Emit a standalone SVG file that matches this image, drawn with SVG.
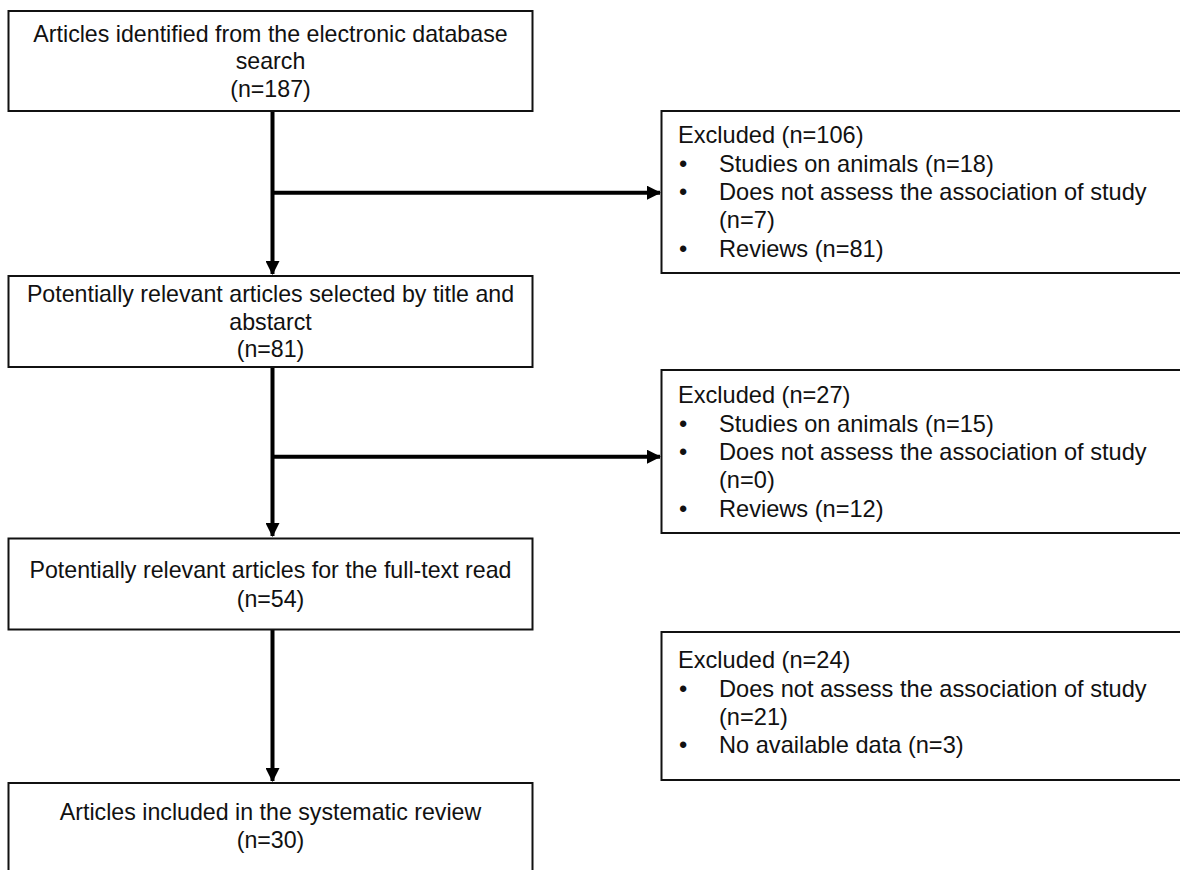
<svg xmlns="http://www.w3.org/2000/svg" width="1180" height="870" viewBox="0 0 1180 870">
<style>
.box{fill:#fff;stroke:#111;stroke-width:2}
.t{font-family:"Liberation Sans",Arial,sans-serif;font-size:23.2px;fill:#111}
.e{font-family:"Liberation Sans",Arial,sans-serif;font-size:23.6px;fill:#111}
.c{text-anchor:middle}
.ln{fill:none;stroke:#000;stroke-width:4}
</style>
<defs>
<marker id="ah" markerUnits="userSpaceOnUse" markerWidth="14" markerHeight="14" viewBox="0 0 14 14" refX="13" refY="7" orient="auto">
<path d="M0,0 L14,7 L0,14 Z" fill="#000"/>
</marker>
</defs>
<rect width="1180" height="870" fill="#fff"/>
<g id="connectors">
<line class="ln" x1="272.5" y1="111" x2="272.5" y2="274" marker-end="url(#ah)"/>
<line class="ln" x1="272.5" y1="192.7" x2="660" y2="192.7" marker-end="url(#ah)"/>
<line class="ln" x1="272.5" y1="367" x2="272.5" y2="536" marker-end="url(#ah)"/>
<line class="ln" x1="272.5" y1="456.7" x2="660" y2="456.7" marker-end="url(#ah)"/>
<line class="ln" x1="272.5" y1="630" x2="272.5" y2="781" marker-end="url(#ah)"/>
</g>
<g id="node1">
<rect class="box" x="8.5" y="11" width="524" height="100"/>
<text class="t c" x="270.5" y="41.5">Articles identified from the electronic database</text>
<text class="t c" x="270.5" y="69">search</text>
<text class="t c" x="270.5" y="96.5">(n=187)</text>
</g>
<g id="excluded1">
<rect class="box" x="661.5" y="111" width="530" height="162"/>
<text class="e" x="678" y="143">Excluded (n=106)</text>
<text class="e" x="679" y="171.5">•</text>
<text class="e" x="719" y="171.5">Studies on animals (n=18)</text>
<text class="e" x="679" y="200">•</text>
<text class="e" x="719" y="200">Does not assess the association of study</text>
<text class="e" x="719" y="228">(n=7)</text>
<text class="e" x="679" y="256.5">•</text>
<text class="e" x="719" y="256.5">Reviews (n=81)</text>
</g>
<g id="node2">
<rect class="box" x="8.5" y="276" width="524" height="91"/>
<text class="t c" x="270.5" y="301.5">Potentially relevant articles selected by title and</text>
<text class="t c" x="270.5" y="329.5">abstarct</text>
<text class="t c" x="270.5" y="357">(n=81)</text>
</g>
<g id="excluded2">
<rect class="box" x="661.5" y="370" width="530" height="163"/>
<text class="e" x="678" y="403">Excluded (n=27)</text>
<text class="e" x="679" y="431.5">•</text>
<text class="e" x="719" y="431.5">Studies on animals (n=15)</text>
<text class="e" x="679" y="460">•</text>
<text class="e" x="719" y="460">Does not assess the association of study</text>
<text class="e" x="719" y="488">(n=0)</text>
<text class="e" x="679" y="516.5">•</text>
<text class="e" x="719" y="516.5">Reviews (n=12)</text>
</g>
<g id="node3">
<rect class="box" x="8.5" y="538.5" width="524" height="91"/>
<text class="t c" x="270.5" y="578">Potentially relevant articles for the full-text read</text>
<text class="t c" x="270.5" y="606.5">(n=54)</text>
</g>
<g id="excluded3">
<rect class="box" x="661.5" y="632" width="530" height="148"/>
<text class="e" x="678" y="668">Excluded (n=24)</text>
<text class="e" x="679" y="696.5">•</text>
<text class="e" x="719" y="696.5">Does not assess the association of study</text>
<text class="e" x="719" y="725">(n=21)</text>
<text class="e" x="679" y="753">•</text>
<text class="e" x="719" y="753">No available data (n=3)</text>
</g>
<g id="node4">
<rect class="box" x="8.5" y="783" width="524" height="100"/>
<text class="t c" x="270.5" y="820">Articles included in the systematic review</text>
<text class="t c" x="270.5" y="848">(n=30)</text>
</g>
</svg>
